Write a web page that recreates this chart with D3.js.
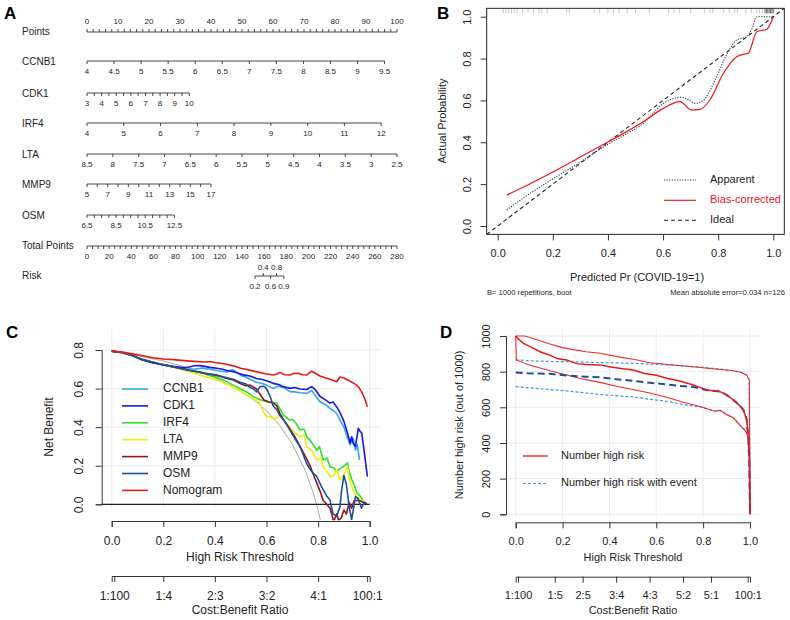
<!DOCTYPE html>
<html>
<head>
<meta charset="utf-8">
<script src="https://cdn.jsdelivr.net/npm/d3@7"></script>
<style>
body { margin: 0; background: #fff; }
svg { font-family: "Liberation Sans", Arial, sans-serif; }
</style>
</head>
<body>
<div id="fig"></div>
<script>
// ---- panel A : nomogram ----
const nomoVars = ["CCNB1", "CDK1", "IRF4", "LTA", "MMP9", "OSM"];
const nomoMin = [4, 3, 4, 8.5, 5, 6.5];
const nomoMax = [9.5, 10, 12, 2.5, 17, 12.5];
const nomoMaxPts = [96, 33, 94.9, 100, 40, 28.2];
const nomoTickStep = [0.5, 0.5, 1, 0.5, 1, 0.5];
const nomoLabelStep = [0.5, 1, 1, 0.5, 2, 2];
const totalPtsMax = 280;
const riskLabels = [0.2, 0.4, 0.6, 0.8, 0.9];
const riskTotalPts = [151.7, 159.2, 165.8, 171.2, 177.8];
const riskAbove = [false, true, false, true, false];

// ---- panel B : calibration ----
const calApparent = [[0.033,0.076],[0.1,0.14],[0.2,0.225],[0.3,0.305],[0.395,0.387],[0.46,0.435],[0.528,0.49],[0.601,0.585],[0.661,0.615],[0.69,0.605],[0.716,0.586],[0.746,0.60],[0.789,0.698],[0.83,0.817],[0.867,0.889],[0.903,0.904],[0.922,0.94],[0.94,1.0],[1.0,1.0]];
const calBias = [[0.033,0.148],[0.1,0.19],[0.202,0.259],[0.3,0.33],[0.395,0.398],[0.46,0.445],[0.528,0.498],[0.601,0.562],[0.661,0.594],[0.704,0.554],[0.734,0.557],[0.77,0.602],[0.819,0.73],[0.867,0.809],[0.897,0.822],[0.909,0.825],[0.94,0.928],[0.976,0.94],[1.0,1.0]];
const calRug = [0.02,0.03,0.04,0.05,0.06,0.07,0.09,0.11,0.13,0.15,0.16,0.18,0.25,0.26,0.35,0.37,0.40,0.42,0.44,0.47,0.50,0.55,0.62,0.64,0.66,0.70,0.75,0.77,0.78,0.82,0.84,0.86,0.87,0.90,0.92,0.94,0.95,0.96,0.97,0.975,0.98,0.985,0.99,0.995,1.0];
const calLegend = ["Apparent", "Bias-corrected", "Ideal"];

// ---- panel C : decision curves ----
const dcaNames = ["CCNB1", "CDK1", "IRF4", "LTA", "MMP9", "OSM", "Nomogram"];
const dcaColors = ["#35aadf", "#1515ee", "#2ee02e", "#f2ec0c", "#8e1717", "#1d4e9e", "#e41a1a"];
const nbCCNB1 = [[0,.794],[.04,.786],[.08,.770],[.12,.748],[.16,.735],[.2,.724],[.24,.713],[.28,.705],[.32,.700],[.35,.706],[.38,.700],[.41,.692],[.446,.686],[.46,.695],[.471,.697],[.49,.680],[.5,.668],[.52,.660],[.536,.648],[.56,.633],[.58,.628],[.6,.618],[.626,.601],[.645,.612],[.665,.606],[.691,.584],[.71,.583],[.73,.578],[.756,.575],[.775,.590],[.79,.562],[.807,.532],[.83,.515],[.846,.497],[.86,.485],[.872,.47],[.885,.437],[.9,.40],[.915,.34],[.924,.307],[.93,.33],[.936,.342],[.945,.28],[.952,.31],[.96,.23]];
const nbCDK1 = [[0,.794],[.04,.787],[.08,.772],[.12,.748],[.16,.733],[.2,.724],[.24,.715],[.28,.708],[.3,.712],[.32,.718],[.342,.719],[.36,.715],[.38,.710],[.407,.705],[.43,.700],[.45,.692],[.471,.688],[.49,.680],[.51,.671],[.536,.665],[.56,.652],[.58,.648],[.6,.641],[.626,.627],[.65,.62],[.66,.612],[.691,.601],[.71,.606],[.73,.598],[.756,.595],[.775,.610],[.79,.593],[.807,.560],[.83,.54],[.846,.525],[.858,.530],[.872,.505],[.885,.475],[.9,.43],[.915,.365],[.924,.318],[.93,.35],[.936,.315],[.945,.30],[.95,.345],[.956,.394],[.962,.38],[.969,.37],[.98,.26],[.991,.143]];
const nbIRF4 = [[0,.794],[.04,.786],[.08,.772],[.12,.752],[.16,.738],[.2,.724],[.24,.712],[.28,.698],[.3,.690],[.342,.687],[.37,.672],[.407,.658],[.44,.640],[.471,.618],[.5,.598],[.52,.585],[.549,.558],[.57,.545],[.6,.532],[.62,.530],[.64,.524],[.665,.463],[.69,.437],[.7,.44],[.715,.42],[.73,.385],[.745,.39],[.756,.351],[.77,.33],[.795,.28],[.805,.30],[.82,.23],[.835,.24],[.846,.195],[.86,.19],[.872,.17],[.885,.185],[.898,.195],[.914,.215],[.92,.17],[.93,.13],[.94,.10],[.95,.06],[.965,.04],[.975,.015],[.988,.005]];
const nbLTA = [[0,.794],[.04,.786],[.08,.772],[.12,.752],[.16,.738],[.2,.724],[.24,.710],[.28,.696],[.32,.680],[.36,.662],[.41,.644],[.44,.625],[.471,.607],[.5,.585],[.523,.567],[.549,.549],[.56,.545],[.575,.52],[.588,.48],[.601,.455],[.614,.455],[.63,.44],[.653,.463],[.67,.43],[.691,.40],[.71,.37],[.73,.35],[.745,.36],[.756,.30],[.775,.28],[.795,.23],[.81,.24],[.82,.195],[.835,.17],[.846,.144],[.86,.148],[.872,.18],[.885,.126],[.9,.15],[.914,.195],[.92,.14],[.93,.09],[.94,.06],[.95,.04],[.96,.03],[.975,.01],[.988,.005]];
const nbMMP9 = [[0,.794],[.04,.787],[.08,.772],[.12,.750],[.16,.735],[.2,.722],[.24,.712],[.28,.700],[.32,.690],[.36,.680],[.407,.670],[.44,.655],[.471,.644],[.5,.625],[.52,.615],[.536,.618],[.56,.600],[.59,.541],[.61,.530],[.626,.524],[.64,.51],[.652,.47],[.67,.43],[.691,.39],[.71,.35],[.73,.30],[.75,.25],[.769,.20],[.78,.16],[.795,.11],[.81,.06],[.82,.02],[.83,.005],[.846,-.02],[.855,-.06],[.86,-.09],[.872,-.05],[.88,-.085],[.89,-.07],[.9,-.03],[.91,-.05],[.92,.01],[.93,-.02],[.94,.02],[.96,.02],[.975,.01],[.99,0]];
const nbOSM = [[0,.794],[.04,.787],[.08,.772],[.12,.750],[.16,.736],[.2,.723],[.24,.712],[.28,.700],[.32,.690],[.36,.678],[.407,.668],[.44,.658],[.471,.648],[.5,.632],[.52,.625],[.536,.605],[.55,.598],[.562,.583],[.575,.61],[.59,.612],[.6,.60],[.614,.56],[.626,.51],[.64,.49],[.652,.46],[.67,.43],[.691,.385],[.71,.34],[.73,.30],[.756,.21],[.775,.17],[.795,.144],[.81,.10],[.82,.075],[.835,.04],[.846,.022],[.858,-.05],[.872,-.06],[.885,-.012],[.89,.06],[.90,.15],[.91,.10],[.92,-.01],[.93,-.08],[.945,.04],[.955,.03],[.968,-.02],[.98,.01],[.988,.005]];
const nbNomogram = [[0,.794],[.04,.789],[.08,.780],[.12,.770],[.16,.760],[.2,.753],[.24,.750],[.28,.745],[.32,.741],[.36,.738],[.38,.740],[.4,.735],[.44,.727],[.48,.715],[.5,.705],[.53,.697],[.56,.688],[.6,.676],[.626,.670],[.64,.676],[.652,.684],[.67,.672],[.691,.670],[.705,.678],[.723,.679],[.74,.672],[.756,.670],[.765,.680],[.775,.690],[.79,.678],[.807,.665],[.83,.655],[.846,.648],[.872,.635],[.885,.660],[.9,.655],[.924,.638],[.945,.622],[.956,.609],[.969,.583],[.98,.55],[.991,.506]];
const nbTreatAll = [[0,.794],[.1,.771],[.2,.743],[.3,.706],[.4,.657],[.5,.588],[.55,.542],[.6,.485],[.65,.411],[.7,.313],[.75,.176],[.78,.064],[.8,-.03],[.815,-.12]];
const costBenefitC = ["1:100", "1:4", "2:3", "3:2", "4:1", "100:1"];
const costBenefitCPos = [1/101, 0.2, 0.4, 0.6, 0.8, 100/101];

// ---- panel D : clinical impact ----
const nhrMid = [[0,1000],[.01,985],[.033,959],[.07,935],[.104,912],[.15,890],[.18,872],[.218,866],[.26,845],[.3,840],[.36,838],[.4,828],[.45,818],[.502,809],[.55,790],[.6,780],[.644,763],[.7,748],[.758,725],[.787,712],[.815,697],[.85,692],[.872,688],[.9,670],[.929,641],[.958,607],[.972,585],[.986,530],[.993,420],[.997,300],[1,0]];
const nhrHigh = [[0,1000],[.04,1000],[.1,975],[.146,955],[.2,935],[.25,922],[.3,912],[.36,903],[.45,880],[.502,870],[.573,850],[.65,840],[.72,832],[.787,823],[.85,815],[.929,805],[.96,797],[.986,781],[.997,753],[1,0]];
const nhrLow = [[0,1000],[.003,866],[.05,840],[.1,822],[.146,805],[.218,781],[.28,760],[.36,740],[.43,718],[.5,700],[.573,680],[.644,656],[.715,628],[.787,605],[.85,578],[.872,583],[.9,560],[.93,540],[.957,500],[.972,480],[.986,455],[.993,425],[.998,390],[1,0]];
const nheMid = [[0,795],[.05,791],[.146,788],[.218,778],[.3,772],[.36,768],[.43,758],[.502,748],[.573,738],[.644,728],[.7,720],[.758,714],[.815,697],[.85,692],[.872,688],[.9,670],[.929,641],[.958,607],[.972,585],[.986,530],[.993,420],[.997,300],[1,0]];
const nheHigh = [[0,866],[.05,862],[.15,857],[.218,856],[.36,851],[.502,847],[.644,838],[.787,826],[.85,818],[.929,806],[.96,798],[.986,781],[.997,753],[1,0]];
const nheLow = [[0,716],[.05,710],[.146,700],[.218,692],[.36,672],[.502,658],[.573,645],[.644,634],[.715,615],[.787,603],[.85,578],[.872,583],[.9,560],[.93,540],[.957,500],[.972,480],[.986,455],[.993,425],[.998,390],[1,0]];
const costBenefitD = ["1:100", "1:5", "2:5", "3:4", "4:3", "5:2", "5:1", "100:1"];
const costBenefitDPos = [1/101, 1/6, 2/7, 3/7, 4/7, 5/7, 5/6, 100/101];
const impactLegend = ["Number high risk", "Number high risk with event"];

// small helper so attribute objects can be set in one go
d3.selection.prototype.attrs = function(o) {
    for (const k in o) this.attr(k, o[k]);
    return this;
};

const svg = d3.select("#fig").append("svg")
    .attr("width", 790).attr("height", 620);
svg.append("rect").attr("width", 790).attr("height", 620).attr("fill", "#fff");

function letter(x, y, t) {
    svg.append("text").attr("x", x).attr("y", y).text(t)
        .attr("font-size", 17).attr("font-weight", "bold");
}
letter(4, 19, "A");
letter(437, 19, "B");
letter(6, 338, "C");
letter(440, 338, "D");

// ================= A =================
let gA = svg.append("g");
let pts = d3.scaleLinear([0, 100], [87, 397]);
let rowY = [61, 93, 123, 154, 184, 215];

function nomoAxis(y, scale, ticks, labels, above) {
    let ext = d3.extent(ticks.map(scale));
    gA.append("line").attrs({x1: ext[0], x2: ext[1], y1: y, y2: y})
        .attr("stroke", "#333").attr("stroke-width", 0.9);
    gA.selectAll(null).data(ticks).enter().append("line")
        .attr("x1", d => scale(d)).attr("x2", d => scale(d))
        .attr("y1", y).attr("y2", above ? y - 3 : y + 3)
        .attr("stroke", "#333").attr("stroke-width", 0.9);
    gA.selectAll(null).data(labels).enter().append("text")
        .attr("x", d => scale(d)).attr("y", above ? y - 10 : y + 11)
        .attr("text-anchor", "middle").attr("dominant-baseline", "middle")
        .attr("font-size", 8).attr("fill", "#222")
        .text(d => d3.format("~g")(d));
}
function rowLabel(y, t) {
    gA.append("text").attr("x", 22).attr("y", y).attr("dominant-baseline", "middle")
        .attr("font-size", 10).attr("fill", "#222").text(t);
}

rowLabel(32, "Points");
nomoAxis(32, pts, d3.range(0, 101, 2), d3.range(0, 101, 10), true);

nomoVars.forEach((v, i) => {
    let lo = nomoMin[i], hi = nomoMax[i];
    let s = d3.scaleLinear([lo, hi], [pts(0), pts(nomoMaxPts[i])]);
    let dir = hi > lo ? 1 : -1;
    let n = Math.round(Math.abs(hi - lo) / nomoTickStep[i]);
    let ticks = d3.range(n + 1).map(k => +(lo + dir * k * nomoTickStep[i]).toFixed(2));
    let labels = ticks.filter(t => {
        let q = Math.abs(t - lo) / nomoLabelStep[i];
        return Math.abs(q - Math.round(q)) < 1e-6;
    });
    rowLabel(rowY[i] + 1, v);
    nomoAxis(rowY[i], s, ticks, labels, false);
});

let tot = d3.scaleLinear([0, totalPtsMax], [87, 397]);
rowLabel(246, "Total Points");
nomoAxis(246, tot, d3.range(0, totalPtsMax + 1, 5), d3.range(0, totalPtsMax + 1, 20), false);

rowLabel(276, "Risk");
gA.append("line").attrs({x1: tot(riskTotalPts[0]), x2: tot(riskTotalPts[4]), y1: 276, y2: 276})
    .attr("stroke", "#333").attr("stroke-width", 0.9);
riskLabels.forEach((r, i) => {
    let x = tot(riskTotalPts[i]);
    gA.append("line").attrs({x1: x, x2: x, y1: 276, y2: riskAbove[i] ? 273 : 279})
        .attr("stroke", "#333").attr("stroke-width", 0.9);
    gA.append("text").attr("x", x).attr("y", riskAbove[i] ? 268 : 287)
        .attr("text-anchor", "middle").attr("dominant-baseline", "middle")
        .attr("font-size", 8).attr("fill", "#222").text(r);
});

// shared helpers
function styleAxis(a, fs) {
    a.selectAll("text").attr("font-size", fs).attr("fill", "#222")
        .attr("font-family", "Liberation Sans, Arial, sans-serif");
    a.selectAll("line, path").attr("stroke", "#333");
}
function rotateLeftLabels(a, lx) {
    a.selectAll("text").attr("x", 0).attr("y", 0).attr("dy", null)
        .attr("text-anchor", "middle").attr("dominant-baseline", "middle")
        .attr("transform", `translate(${lx},0) rotate(-90)`);
}

// ================= B =================
let gB = svg.append("g");
let bx = d3.scaleLinear([0, 1], [497.7, 773.3]);
let by = d3.scaleLinear([0, 1], [226, 16.7]);
let boxB = {x: bx(-0.04), y: by(1.04), width: bx(1.04) - bx(-0.04), height: by(-0.04) - by(1.04)};
gB.append("defs").append("clipPath").attr("id", "clipB").append("rect").attrs(boxB);

let ayB = gB.append("g").attr("transform", `translate(${bx(-0.04)},0)`)
    .call(d3.axisLeft(by).tickValues(d3.range(0, 1.01, 0.2)).tickFormat(d3.format(".1f")).tickSize(6));
ayB.select(".domain").remove();
rotateLeftLabels(ayB, -19);
let axB = gB.append("g").attr("transform", `translate(0,${by(-0.04)})`)
    .call(d3.axisBottom(bx).tickValues(d3.range(0, 1.01, 0.2)).tickFormat(d3.format(".1f")).tickSize(6).tickPadding(9));
axB.select(".domain").remove();
styleAxis(ayB, 11);
styleAxis(axB, 11);

let pB = gB.append("g").attr("clip-path", "url(#clipB)");
pB.selectAll(null).data(calRug).enter().append("line")
    .attr("x1", d => bx(d)).attr("x2", d => bx(d))
    .attr("y1", by(1.04)).attr("y2", by(1.04) + 5)
    .attr("stroke", d => d > 0.965 ? "#444" : "#bbb").attr("stroke-width", 0.8);
pB.append("line").attrs({x1: bx(-0.04), y1: by(-0.04), x2: bx(1.04), y2: by(1.04)})
    .attr("stroke", "#222").attr("stroke-width", 1.1).attr("stroke-dasharray", "4,3");
let lineB = d3.line().x(d => bx(d[0])).y(d => by(d[1])).curve(d3.curveMonotoneX);
pB.append("path").attr("d", lineB(calApparent)).attr("fill", "none")
    .attr("stroke", "#333").attr("stroke-width", 1.1).attr("stroke-dasharray", "1.2,1.4");
pB.append("path").attr("d", lineB(calBias)).attr("fill", "none")
    .attr("stroke", "#e8161b").attr("stroke-width", 1.2);
gB.append("rect").attrs(boxB).attr("fill", "none").attr("stroke", "#222").attr("stroke-width", 1);

let legB = [180, 200.3, 220.3];
let legStyles = [{c: "#333", d: "1.2,1.4"}, {c: "#e8161b", d: null}, {c: "#222", d: "4,3"}];
calLegend.forEach((t, i) => {
    gB.append("line").attrs({x1: 664, x2: 696, y1: legB[i], y2: legB[i]})
        .attr("stroke", legStyles[i].c).attr("stroke-width", 1.1)
        .attr("stroke-dasharray", legStyles[i].d);
    gB.append("text").attr("x", 710).attr("y", legB[i]).attr("dominant-baseline", "middle")
        .attr("font-size", 11).attr("fill", i === 1 ? "#e8161b" : "#222").text(t);
});
gB.append("text").attr("transform", "translate(443,121) rotate(-90)").attr("text-anchor", "middle")
    .attr("dominant-baseline", "middle").attr("font-size", 11).attr("fill", "#222").text("Actual Probability");
gB.append("text").attr("x", 637).attr("y", 278).attr("text-anchor", "middle")
    .attr("dominant-baseline", "middle").attr("font-size", 11).attr("fill", "#222").text("Predicted Pr (COVID-19=1)");
gB.append("text").attr("x", 487).attr("y", 293).attr("dominant-baseline", "middle")
    .attr("font-size", 7.6).attr("fill", "#222").text("B= 1000 repetitions, boot");
gB.append("text").attr("x", 785).attr("y", 293).attr("text-anchor", "end").attr("dominant-baseline", "middle")
    .attr("font-size", 7.6).attr("fill", "#222").text("Mean absolute error=0.034 n=126");

function gridAndAxes(g, x, y, xTicks, yTicks, yFmt, xDom, yDom, axisY, yAxisX, fs, yLabX) {
    g.selectAll(null).data(xTicks).enter().append("line")
        .attr("x1", d => x(d)).attr("x2", d => x(d)).attr("y1", y(yDom[0])).attr("y2", y(yDom[1]))
        .attr("stroke", "#ebebeb").attr("stroke-width", 1);
    g.selectAll(null).data(yTicks).enter().append("line")
        .attr("y1", d => y(d)).attr("y2", d => y(d)).attr("x1", x(xDom[0])).attr("x2", x(xDom[1]))
        .attr("stroke", "#ebebeb").attr("stroke-width", 1);
    let ay = g.append("g").attr("transform", `translate(${yAxisX},0)`)
        .call(d3.axisLeft(y).tickValues(yTicks).tickFormat(yFmt).tickSizeOuter(0).tickSize(6));
    rotateLeftLabels(ay, yLabX);
    let ax = g.append("g").attr("transform", `translate(0,${axisY})`)
        .call(d3.axisBottom(x).tickValues(xTicks).tickFormat(d3.format(".1f")).tickSizeOuter(0).tickSize(6).tickPadding(9));
    styleAxis(ay, fs);
    styleAxis(ax, fs);
}
function ratioAxis(g, x, yPos, pos, labels, fs) {
    let a = g.append("g").attr("transform", `translate(0,${yPos})`)
        .call(d3.axisBottom(x).tickValues(pos).tickFormat((d, i) => labels[i]).tickSizeOuter(0).tickSize(6).tickPadding(9));
    styleAxis(a, fs);
}

// ================= C =================
let gC = svg.append("g");
let cx = d3.scaleLinear([0, 1], [111.7, 369.7]);
let cy = d3.scaleLinear([0, 0.8], [504.3, 350]);
gC.append("defs").append("clipPath").attr("id", "clipC").append("rect")
    .attrs({x: cx(-0.04), y: cy(0.91), width: cx(1.04) - cx(-0.04), height: cy(-0.083) - cy(0.91)});
gridAndAxes(gC, cx, cy, d3.range(0, 1.01, 0.2), d3.range(0, 0.81, 0.2), d3.format(".1f"),
    [-0.04, 1.04], [-0.02, 0.91], 521, 101.7, 12, -22);

let pC = gC.append("g").attr("clip-path", "url(#clipC)");
let lineC = d3.line().x(d => cx(d[0])).y(d => cy(d[1]));
pC.append("path").attr("d", lineC(nbTreatAll)).attr("fill", "none")
    .attr("stroke", "#a8a8a8").attr("stroke-width", 1);
pC.append("line").attrs({x1: cx(-0.04), x2: cx(1), y1: cy(0), y2: cy(0)})
    .attr("stroke", "#222").attr("stroke-width", 1.2);
let nbSeries = [nbCCNB1, nbCDK1, nbIRF4, nbLTA, nbMMP9, nbOSM, nbNomogram];
nbSeries.forEach((s, i) => {
    pC.append("path").attr("d", lineC(s)).attr("fill", "none")
        .attr("stroke", dcaColors[i]).attr("stroke-width", 1.6).attr("stroke-linejoin", "round");
});
dcaNames.forEach((n, i) => {
    let y = 389 + i * 16.9;
    gC.append("line").attrs({x1: 122, x2: 148, y1: y, y2: y})
        .attr("stroke", dcaColors[i]).attr("stroke-width", 1.6);
    gC.append("text").attr("x", 163).attr("y", y).attr("dominant-baseline", "middle")
        .attr("font-size", 12).attr("fill", "#222").text(n);
});
gC.append("text").attr("transform", "translate(50,427) rotate(-90)").attr("text-anchor", "middle")
    .attr("dominant-baseline", "middle").attr("font-size", 12).attr("fill", "#222").text("Net Benefit");
gC.append("text").attr("x", 240).attr("y", 558).attr("text-anchor", "middle")
    .attr("dominant-baseline", "middle").attr("font-size", 12).attr("fill", "#222").text("High Risk Threshold");
ratioAxis(gC, cx, 576, costBenefitCPos, costBenefitC, 12);
gC.append("text").attr("x", 240).attr("y", 610.5).attr("text-anchor", "middle")
    .attr("dominant-baseline", "middle").attr("font-size", 12).attr("fill", "#222").text("Cost:Benefit Ratio");

// ================= D =================
let gD = svg.append("g");
let dx = d3.scaleLinear([0, 1], [515.7, 750]);
let dy = d3.scaleLinear([0, 1000], [514.3, 336]);
gD.append("defs").append("clipPath").attr("id", "clipD").append("rect")
    .attrs({x: dx(-0.04), y: dy(1040), width: dx(1.04) - dx(-0.04), height: dy(-40) - dy(1040)});
gridAndAxes(gD, dx, dy, d3.range(0, 1.01, 0.2), d3.range(0, 1001, 200), d3.format("d"),
    [-0.04, 1.04], [-20, 1040], 522.3, 506, 11, -19);

let pD = gD.append("g").attr("clip-path", "url(#clipD)");
let lineD = d3.line().x(d => dx(d[0])).y(d => dy(d[1]));
[nheHigh, nheLow].forEach(s => pD.append("path").attr("d", lineD(s)).attr("fill", "none")
    .attr("stroke", "#3a98dc").attr("stroke-width", 1.2).attr("stroke-dasharray", "3,2"));
[nhrHigh, nhrLow].forEach(s => pD.append("path").attr("d", lineD(s)).attr("fill", "none")
    .attr("stroke", "#ee2a2a").attr("stroke-width", 1.1));
pD.append("path").attr("d", lineD(nheMid)).attr("fill", "none")
    .attr("stroke", "#1d4f9c").attr("stroke-width", 2).attr("stroke-dasharray", "7,4");
pD.append("path").attr("d", lineD(nhrMid)).attr("fill", "none")
    .attr("stroke", "#e21c1c").attr("stroke-width", 1.5);

gD.append("line").attrs({x1: 523, x2: 548, y1: 456, y2: 456}).attr("stroke", "#ee2a2a").attr("stroke-width", 1.4);
gD.append("line").attrs({x1: 523, x2: 548, y1: 483.5, y2: 483.5}).attr("stroke", "#3a98dc")
    .attr("stroke-width", 1.2).attr("stroke-dasharray", "3,2");
impactLegend.forEach((t, i) => {
    gD.append("text").attr("x", 561).attr("y", i ? 483.5 : 456).attr("dominant-baseline", "middle")
        .attr("font-size", 11).attr("fill", "#222").text(t);
});
gD.append("text").attr("transform", "translate(460,425) rotate(-90)").attr("text-anchor", "middle")
    .attr("dominant-baseline", "middle").attr("font-size", 11).attr("fill", "#222").text("Number high risk (out of 1000)");
gD.append("text").attr("x", 633).attr("y", 558.5).attr("text-anchor", "middle")
    .attr("dominant-baseline", "middle").attr("font-size", 11).attr("fill", "#222").text("High Risk Threshold");
ratioAxis(gD, dx, 576.7, costBenefitDPos, costBenefitD, 11);
gD.append("text").attr("x", 633).attr("y", 611).attr("text-anchor", "middle")
    .attr("dominant-baseline", "middle").attr("font-size", 11).attr("fill", "#222").text("Cost:Benefit Ratio");
</script>
</body>
</html>
